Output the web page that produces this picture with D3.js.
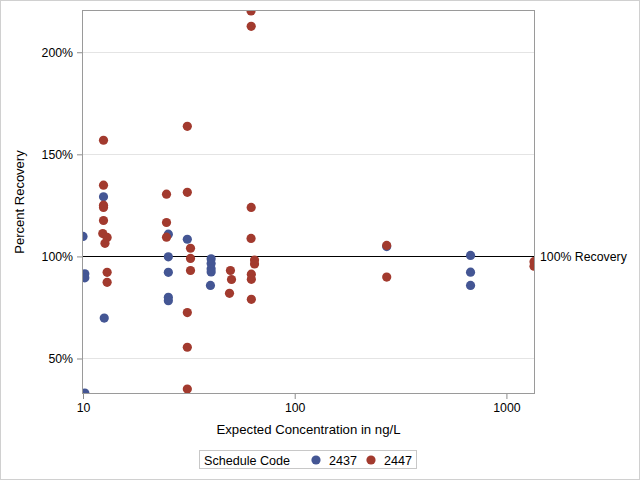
<!DOCTYPE html>
<html><head><meta charset="utf-8">
<script src="https://cdn.jsdelivr.net/npm/d3@7"></script>
<style>body{margin:0;background:#fff}svg{display:block}</style>
</head><body>
<svg id="c" width="640" height="480"></svg>
<script>
const seriesNames = ["2437", "2447"];
const seriesColors = ["#445694", "#A23A2E"];
const conc2437 = [10.2, 10, 10.2, 10.2, 12.5, 12.6, 25.3, 25.3, 25.3, 25.3, 25.3, 31.1, 40.3, 40.3, 40.3, 40.3, 40, 272, 677, 677, 677];
const rec2437  = [33.1, 109.8, 91.5, 89.5, 129.2, 69.8, 110.9, 99.8, 92.2, 80.0, 78.3, 108.4, 98.8, 96.5, 94.0, 92.4, 85.8, 104.8, 100.5, 92.3, 85.8];
const conc2447 = [12.5, 12.5, 12.5, 12.5, 12.5, 12.4, 13.0, 12.7, 13.0, 13.0, 24.8, 24.8, 24.8, 31.1, 31.1, 32.2, 32.2, 32.2, 31.1, 31.1, 31.1, 49.7, 50.3, 49.2, 62.2, 62.3, 62.3, 62.2, 64.6, 64.6, 62.4, 62.4, 62.4, 272, 272, 1350, 1350];
const rec2447  = [156.9, 134.9, 125.1, 124.0, 117.6, 111.2, 109.3, 106.4, 92.2, 87.3, 130.5, 116.6, 109.4, 163.7, 131.4, 104.0, 99.0, 93.1, 72.5, 55.5, 35.0, 93.1, 88.7, 81.9, 220.2, 212.7, 124.0, 108.8, 98.2, 96.3, 91.3, 88.8, 79.0, 105.4, 89.9, 97.4, 95.2];
const xTicks = [10, 100, 1000];
const yTicks = [50, 100, 150, 200];
const refValue = 100;
const refLabel = "100% Recovery";
const xTitle = "Expected Concentration in ng/L";
const yTitle = "Percent Recovery";
const legendTitle = "Schedule Code";

const font = "'Liberation Sans', Arial, sans-serif";
const svg = d3.select("#c");
const L = 83, R = 534, T = 11, B = 393;

const data = [
  conc2437.map((c, i) => ({x: c, y: rec2437[i], s: 0})),
  conc2447.map((c, i) => ({x: c, y: rec2447[i], s: 1}))
];
const all = data.flat();
const x = d3.scaleLog().domain([10, d3.max(all, d => d.x)]).range([L, R]);
const y = d3.scaleLinear().domain(d3.extent(all, d => d.y)).range([B, T]);

// outer border
svg.append("rect").attr("x", 0.5).attr("y", 0.5).attr("width", 639).attr("height", 479)
  .attr("fill", "#fff").attr("stroke", "#d0d0d0");

// grid
svg.append("g").selectAll("line").data(yTicks).join("line")
  .attr("x1", L).attr("x2", R).attr("y1", d => Math.round(y(d)) + 0.5).attr("y2", d => Math.round(y(d)) + 0.5)
  .attr("stroke", "#e4e4e4");

// clip
svg.append("clipPath").attr("id", "clip").append("rect")
  .attr("x", L).attr("y", T).attr("width", R - L).attr("height", B - T);

// reference line
svg.append("line").attr("x1", L).attr("x2", R)
  .attr("y1", Math.round(y(refValue)) + 0.5).attr("y2", Math.round(y(refValue)) + 0.5)
  .attr("stroke", "#000").attr("stroke-width", 1);

// points
const pg = svg.append("g").attr("clip-path", "url(#clip)");
data.forEach((arr, k) => {
  pg.append("g").selectAll("circle").data(arr).join("circle")
    .attr("cx", d => x(d.x)).attr("cy", d => y(d.y)).attr("r", 4.6)
    .attr("fill", seriesColors[k]);
});

// axes
const xAxis = d3.axisBottom(x).tickValues(xTicks).tickFormat(d3.format("d")).tickSize(6).tickPadding(4);
const gx = svg.append("g").attr("transform", `translate(0,${B})`).call(xAxis);
const yAxis = d3.axisLeft(y).tickValues(yTicks).tickFormat(d => d + "%").tickSize(6).tickPadding(4);
const gy = svg.append("g").attr("transform", `translate(${L},0)`).call(yAxis);
[gx, gy].forEach(g => {
  g.select(".domain").remove();
  g.selectAll("line").attr("stroke", "#8c8c8c");
  g.selectAll("text").attr("font-family", font).attr("font-size", 12.3).attr("fill", "#000");
});

// frame
svg.append("rect").attr("x", L - 0.5).attr("y", T - 0.5).attr("width", R - L + 1).attr("height", B - T + 1)
  .attr("fill", "none").attr("stroke", "#9a9a9a");

// ref label
svg.append("text").attr("x", 540).attr("y", y(refValue)).attr("dy", "0.35em")
  .attr("font-family", font).attr("font-size", 12.3).text(refLabel);

// titles
svg.append("text").attr("x", (L + R) / 2).attr("y", 434).attr("text-anchor", "middle")
  .attr("font-family", font).attr("font-size", 13.2).text(xTitle);
svg.append("text").attr("transform", `translate(24,${(T + B) / 2}) rotate(-90)`).attr("text-anchor", "middle")
  .attr("font-family", font).attr("font-size", 13).text(yTitle);

// legend
const lg = svg.append("g");
lg.append("rect").attr("x", 199.5).attr("y", 450.5).attr("width", 217).attr("height", 18)
  .attr("fill", "#fff").attr("stroke", "#c8c8c8");
lg.append("text").attr("x", 204).attr("y", 464.5).attr("font-family", font).attr("font-size", 12.6).text(legendTitle);
const legX = [316, 371];
seriesNames.forEach((n, k) => {
  lg.append("circle").attr("cx", legX[k]).attr("cy", 460).attr("r", 4.6).attr("fill", seriesColors[k]);
  lg.append("text").attr("x", legX[k] + 13).attr("y", 464.5).attr("font-family", font).attr("font-size", 12.6).text(n);
});
</script>
</body></html>
